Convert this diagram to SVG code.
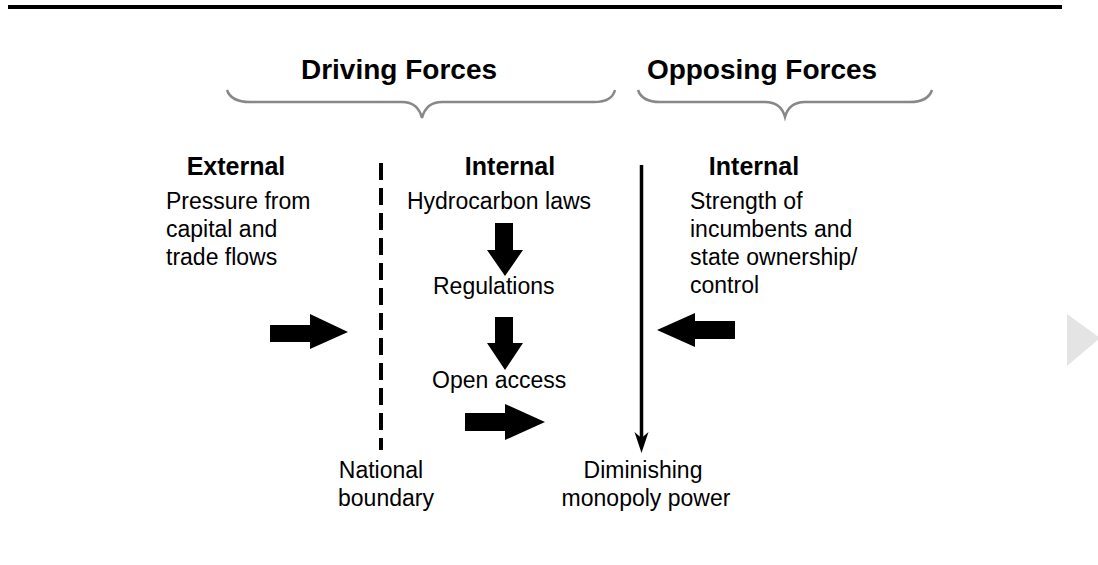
<svg xmlns="http://www.w3.org/2000/svg" width="1098" height="565" viewBox="0 0 1098 565">
<style>
text{font-family:"Liberation Sans",Arial,sans-serif;fill:#000}
.t{font-size:28px;font-weight:bold}
.h{font-size:25px;font-weight:bold}
.r{font-size:23px}
.brace{fill:none;stroke:#888;stroke-width:2.5}
.blk{fill:#000}
</style>
<rect width="1098" height="565" fill="#fff"/>
<rect x="8" y="5" width="1054" height="4" fill="#000"/>
<polygon points="1067,314 1100,338 1067,366" fill="#e4e4e4"/>
<g id="driving-forces">
<text class="t" x="399" y="79" text-anchor="middle">Driving Forces</text>
<path class="brace" d="M227,90 Q231,102 250,102 L402,102 Q418,102 422,118 Q426,102 442,102 L594,102 Q612,102 615,90"/>
</g>
<g id="opposing-forces">
<text class="t" x="762" y="79" text-anchor="middle">Opposing Forces</text>
<path class="brace" d="M638,90 Q642,102 660,102 L765,102 Q781,102 785,117 Q789,102 805,102 L910,102 Q928,102 932,90"/>
</g>
<g id="external">
<text class="h" x="236" y="175" text-anchor="middle">External</text>
<text class="r" x="166" y="209">Pressure from</text>
<text class="r" x="166" y="237">capital and</text>
<text class="r" x="166" y="265">trade flows</text>
</g>
<g id="internal-driving">
<text class="h" x="510" y="175" text-anchor="middle">Internal</text>
<text class="r" x="499" y="209" text-anchor="middle">Hydrocarbon laws</text>
<text class="r" x="433" y="294">Regulations</text>
<text class="r" x="432" y="388">Open access</text>
</g>
<g id="internal-opposing">
<text class="h" x="754" y="175" text-anchor="middle">Internal</text>
<text class="r" x="690" y="209">Strength of</text>
<text class="r" x="690" y="237">incumbents and</text>
<text class="r" x="690" y="265">state ownership/</text>
<text class="r" x="690" y="293">control</text>
</g>
<g id="national-boundary">
<line x1="381" y1="163" x2="381" y2="450" stroke="#000" stroke-width="4" stroke-dasharray="17 8"/>
<text class="r" x="381" y="478" text-anchor="middle">National</text>
<text class="r" x="386" y="506" text-anchor="middle">boundary</text>
</g>
<g id="monopoly-power">
<line x1="641.5" y1="165" x2="641.5" y2="440" stroke="#000" stroke-width="3.5"/>
<path class="blk" d="M641.5,453 L634.5,432 L641.5,438 L648.5,432 Z"/>
<text class="r" x="643" y="478" text-anchor="middle">Diminishing</text>
<text class="r" x="646" y="506" text-anchor="middle">monopoly power</text>
</g>
<g id="connectors">
<path class="blk" d="M495,223 H513 V250 H523 L505,276 L487,250 H495 Z"/>
<path class="blk" d="M495,317 H513 V343 H523 L505,370 L487,343 H495 Z"/>
<path class="blk" d="M270,325 H310 V314 L348,332 L310,349 V342 H270 Z"/>
<path class="blk" d="M735,321 H695 V313 L657,330 L695,347 V339 H735 Z"/>
<path class="blk" d="M465,413 H505 V404 L545,422 L505,440 V431 H465 Z"/>
</g>
</svg>
